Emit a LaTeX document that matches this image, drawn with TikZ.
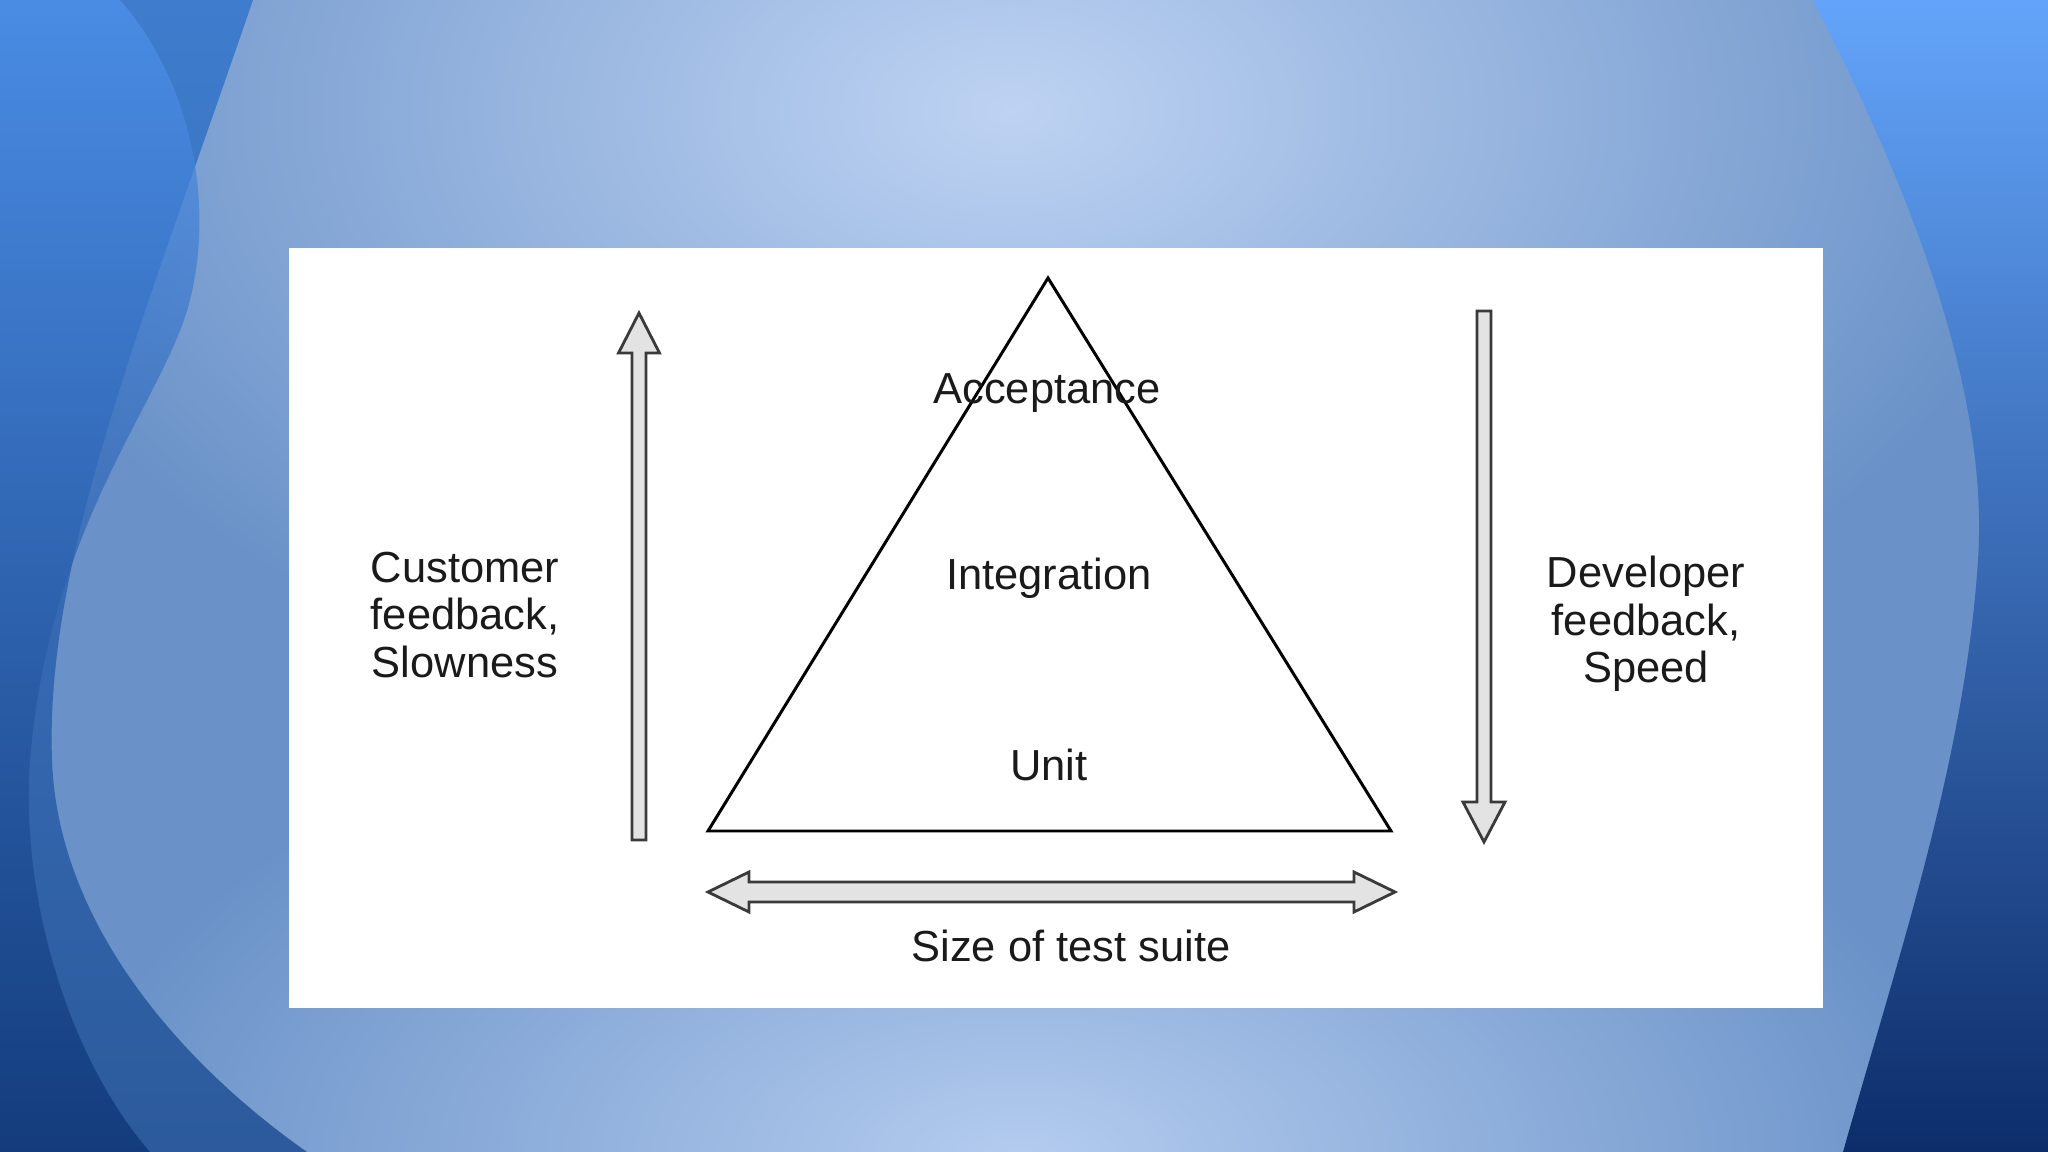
\documentclass[tikz,border=0pt]{standalone}
\usepackage{fontspec}
\setmainfont{Liberation Sans}
\definecolor{basec}{HTML}{6A92C8}
\definecolor{lightc}{HTML}{BED3F3}
\definecolor{lightb}{HTML}{B4CCEF}
\definecolor{bandtop}{HTML}{3F7CCD}
\definecolor{bandbot}{HTML}{2C5A9C}
\definecolor{outtop}{HTML}{4F93EE}
\definecolor{outbot}{HTML}{0A3070}
\definecolor{rtop}{HTML}{63A4FA}
\definecolor{rmid}{HTML}{4A7ED6}
\definecolor{rbot}{HTML}{0D2D6A}
\definecolor{arrfill}{HTML}{E3E3E3}
\definecolor{arrline}{HTML}{3A3A3A}
\definecolor{txt}{HTML}{1A1A1A}
\tikzset{
  lbl/.style={font=\fontsize{12.36}{13.57}\selectfont, text=txt, inner sep=0pt, align=center},
  blockarrow/.style={fill=arrfill, draw=arrline, line width=0.8pt, line join=miter},
  tri/.style={draw=black, line width=0.85pt, line join=miter}
}
\begin{document}
\begin{tikzpicture}[x=0.01cm, y=-0.01cm]
\useasboundingbox (0,0) rectangle (2048,1152);
% background
\fill[basec] (0,0) rectangle (2048,1152);
\shade[inner color=lightc, outer color=basec] (1010,110) ellipse (10.5cm and 6.5cm);
\shade[inner color=lightb, outer color=basec] (1020,1160) ellipse (9.5cm and 5cm);
% left bands
\shade[top color=bandtop, bottom color=bandbot]
  (253,0) .. controls (140,330) and (45,560) .. (52,760)
  .. controls (58,930) and (190,1070) .. (307,1152) -- (0,1152) -- (0,0) -- cycle;
\shade[top color=outtop, bottom color=outbot, opacity=0.7]
  (120,0) .. controls (190,80) and (215,200) .. (190,300)
  .. controls (165,400) and (50,520) .. (30,760)
  .. controls (20,900) and (70,1060) .. (150,1152) -- (0,1152) -- (0,0) -- cycle;
% right shape
\shade[top color=rtop, middle color=rmid, bottom color=rbot]
  (1813,0) .. controls (1900,170) and (1990,380) .. (1978,560)
  .. controls (1965,760) and (1900,950) .. (1843,1152) -- (2048,1152) -- (2048,0) -- cycle;
% white panel
\fill[white] (289,248) rectangle (1823,1008);
% triangle
\coordinate (apex) at (1048,278);
\coordinate (bl) at (708,831);
\coordinate (br) at (1391,831);
\draw[tri] (apex) -- (bl) -- (br) -- cycle;
% up arrow
\coordinate (uptip) at (639,313);
\draw[blockarrow] (uptip) -- (659.5,353) -- (646,353) -- (646,840) -- (632,840) -- (632,353) -- (618.5,353) -- cycle;
% down arrow
\coordinate (dntip) at (1484,842);
\draw[blockarrow] (dntip) -- (1505,802) -- (1491,802) -- (1491,311) -- (1477,311) -- (1477,802) -- (1463,802) -- cycle;
% horizontal double arrow
\coordinate (ltip) at (708,892);
\coordinate (rtip) at (1395,892);
\draw[blockarrow] (ltip) -- (749,872) -- (749,882) -- (1354,882) -- (1354,872) -- (rtip) -- (1354,912) -- (1354,902) -- (749,902) -- (749,912) -- cycle;
% labels
\node[lbl, anchor=base] (acc) at (1047,404) {Acceptance};
\node[lbl, anchor=base] (integ) at (1049,590) {Integration};
\node[lbl, anchor=base] (unit) at (1049,780) {Unit};
\node[lbl, anchor=base] (size) at (1071,961) {Size of test suite};
\node[lbl] (cust) at (465,615) {Customer\\feedback,\\Slowness};
\node[lbl] (dev) at (1646,624) {Developer\\feedback,\\Speed};
\end{tikzpicture}
\end{document}
